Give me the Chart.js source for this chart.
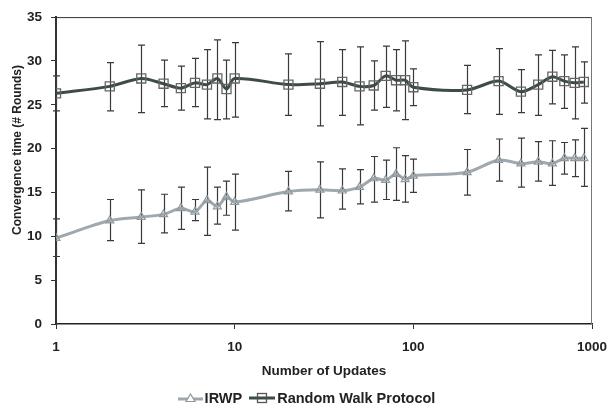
<!DOCTYPE html>
<html>
<head>
<meta charset="utf-8">
<script src="https://cdn.jsdelivr.net/npm/chart.js@4.4.1/dist/chart.umd.min.js"></script>
<style>
  html, body { margin: 0; padding: 0; background: #fff; }
  #wrap { position: relative; width: 608px; height: 413px; }
  #legend {
    position: absolute; left: 0; top: 390px; width: 608px;
    display: flex; justify-content: center; align-items: center;
    font: bold 14.5px "Liberation Sans", Arial, sans-serif; color: #222;
  }
  #legend span.item { display: flex; align-items: center; margin: 0 1px 0 6px; }
  #legend svg { margin-right: 2px; }
</style>
</head>
<body>
<div id="wrap">
  <canvas id="chart" width="608" height="413"></canvas>
  <div id="legend">
    <span class="item">
      <svg width="25" height="12"><line x1="0" y1="7" x2="25" y2="7" stroke="#a0a8ad" stroke-width="3"/><polygon points="12.5,2 17,9.5 8,9.5" fill="#fff" stroke="#8f999e" stroke-width="1.2"/></svg>IRWP
    </span>
    <span class="item">
      <svg width="26" height="12"><line x1="0" y1="6" x2="26" y2="6" stroke="#3d4b4b" stroke-width="3"/><rect x="8.5" y="1.5" width="9" height="9" fill="none" stroke="#555" stroke-width="1.3"/></svg>Random Walk Protocol
    </span>
  </div>
</div>
<script>
// x values (number of updates)
const updates = [1, 2, 3, 4, 5, 6, 7, 8, 9, 10, 20, 30, 40, 50, 60, 70, 80, 90, 100, 200, 300, 400, 500, 600, 700, 800, 900];

// Random Walk Protocol: mean and error bar ends
const rwMean = [26.3, 27.1, 28.0, 27.4, 26.9, 27.5, 27.3, 28.0, 26.8, 28.0, 27.3, 27.4, 27.6, 27.1, 27.2, 28.3, 27.8, 27.8, 27.0, 26.7, 27.7, 26.5, 27.3, 28.2, 27.7, 27.5, 27.6];
const rwHigh = [28.3, 29.8, 31.8, 30.1, 29.4, 30.3, 31.3, 32.4, 30.1, 32.1, 30.8, 32.2, 31.3, 31.6, 30.0, 31.7, 31.3, 32.3, 29.1, 29.5, 31.4, 29.0, 30.7, 31.2, 30.7, 31.6, 29.9];
const rwLow = [24.3, 24.3, 24.1, 24.8, 24.4, 24.8, 23.4, 23.3, 23.4, 23.6, 23.8, 22.6, 23.8, 22.7, 24.4, 24.7, 24.3, 23.3, 24.9, 24.0, 23.9, 24.1, 23.8, 25.1, 24.6, 23.4, 25.2];

// IRWP: mean and error bar ends
const irwpMean = [9.8, 11.8, 12.2, 12.5, 13.2, 12.8, 14.1, 13.4, 14.5, 13.9, 15.1, 15.3, 15.2, 15.6, 16.6, 16.4, 17.1, 16.5, 16.9, 17.3, 18.7, 18.3, 18.5, 18.3, 18.9, 18.9, 18.9];
const irwpHigh = [12.0, 14.2, 15.3, 14.8, 15.6, 14.2, 17.9, 15.6, 16.3, 17.1, 17.4, 18.5, 17.7, 17.6, 19.1, 18.7, 20.1, 19.2, 18.8, 19.9, 21.1, 21.2, 20.8, 20.9, 20.7, 21.0, 22.3];
const irwpLow = [7.7, 9.5, 9.2, 10.4, 10.8, 11.8, 10.1, 11.4, 12.4, 10.7, 12.9, 12.1, 13.1, 13.7, 13.9, 14.2, 14.1, 13.9, 15.0, 14.7, 16.3, 15.6, 16.3, 15.8, 17.1, 16.8, 15.7];

const xTicks = [1, 10, 100, 1000];
const yTitle = 'Convergence time (# Rounds)';

const family = '"Liberation Sans", Arial, sans-serif';
const font = { family: family, size: 13.5, weight: 'bold' };

function points(ys) {
  return updates.map((x, i) => ({ x: x, y: ys[i] }));
}

// draws the vertical error bars under the lines, plus frame and y title
const errorBars = {
  id: 'errorBars',
  beforeDatasetsDraw(chart) {
    const ctx = chart.ctx;
    const xs = chart.scales.x, ys = chart.scales.y;
    ctx.save();
    chart.data.datasets.forEach(ds => {
      ctx.strokeStyle = ds.errColor;
      ctx.lineWidth = 1.2;
      ds.errLow.forEach((lo, i) => {
        const px = Math.round(xs.getPixelForValue(updates[i])) + 0.5;
        const top = ys.getPixelForValue(ds.errHigh[i]);
        const bot = ys.getPixelForValue(lo);
        ctx.beginPath();
        ctx.moveTo(px, top); ctx.lineTo(px, bot);
        ctx.moveTo(px - 3.5, top); ctx.lineTo(px + 3.5, top);
        ctx.moveTo(px - 3.5, bot); ctx.lineTo(px + 3.5, bot);
        ctx.stroke();
      });
    });
    ctx.restore();
  },
  afterDraw(chart) {
    const { ctx, chartArea: a } = chart;
    ctx.save();
    ctx.lineWidth = 1;
    ctx.strokeStyle = '#333';
    ctx.beginPath();
    ctx.moveTo(a.left, a.top + 0.5); ctx.lineTo(a.right, a.top + 0.5);
    ctx.stroke();
    ctx.strokeStyle = '#777';
    ctx.beginPath();
    ctx.moveTo(a.right - 0.5, a.top); ctx.lineTo(a.right - 0.5, a.bottom);
    ctx.stroke();
    // y axis title, sits a bit above the middle like the original
    ctx.translate(18, 150);
    ctx.rotate(-Math.PI / 2);
    ctx.font = 'bold 12px ' + family;
    ctx.fillStyle = '#222';
    ctx.textAlign = 'center';
    ctx.textBaseline = 'middle';
    ctx.fillText(yTitle, 0, 0);
    ctx.restore();
  }
};

new Chart(document.getElementById('chart'), {
  type: 'line',
  data: {
    datasets: [
      {
        label: 'IRWP',
        data: points(irwpMean),
        errLow: irwpLow, errHigh: irwpHigh, errColor: '#3a3a3a',
        borderColor: '#a0a8ad',
        borderWidth: 3,
        tension: 0.3,
        pointStyle: 'triangle',
        pointRadius: 4.6,
        pointBorderWidth: 1.2,
        pointBorderColor: '#8f999e',
        pointBackgroundColor: 'rgba(255,255,255,0)'
      },
      {
        label: 'Random Walk Protocol',
        data: points(rwMean),
        errLow: rwLow, errHigh: rwHigh, errColor: '#3a3a3a',
        borderColor: '#3d4b4b',
        borderWidth: 3,
        tension: 0.3,
        pointStyle: 'rect',
        pointRadius: 6.4,
        pointBorderWidth: 1.3,
        pointBorderColor: '#666',
        pointBackgroundColor: 'rgba(255,255,255,0)'
      }
    ]
  },
  options: {
    responsive: false,
    animation: false,
    layout: { padding: { top: 9, right: 16, left: 0, bottom: 33 } },
    plugins: {
      legend: { display: false },
      tooltip: { enabled: false }
    },
    scales: {
      x: {
        type: 'logarithmic',
        min: 1,
        max: 1000,
        afterBuildTicks: scale => { scale.ticks = xTicks.map(v => ({ value: v })); },
        afterFit: scale => {
          scale.height = 56;
          scale.paddingLeft = 0;
          scale.paddingRight = 0;
        },
        border: { color: '#222', width: 1.5 },
        grid: { drawOnChartArea: false, tickLength: 5, color: '#333' },
        ticks: {
          font: font, color: '#222', padding: 10, maxRotation: 0,
          callback: v => String(v)
        },
        title: {
          display: true, text: 'Number of Updates',
          font: font, color: '#222', padding: { top: 4, bottom: 1 }
        }
      },
      y: {
        min: 0,
        max: 35,
        afterFit: scale => { scale.width = 56; },
        border: { color: '#333', width: 2 },
        grid: { drawOnChartArea: false, tickLength: 5, color: '#333' },
        ticks: { stepSize: 5, font: font, color: '#222', padding: 9 }
      }
    }
  },
  plugins: [errorBars]
});
</script>
</body>
</html>
